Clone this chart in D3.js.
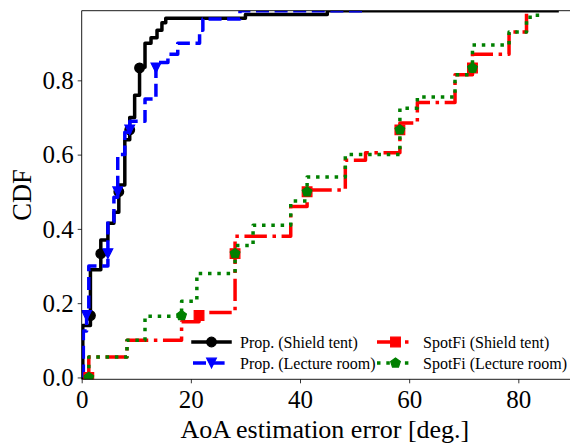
<!DOCTYPE html>
<html><head><meta charset="utf-8">
<script src="https://cdn.jsdelivr.net/npm/d3@7"></script>
<style>body{margin:0;background:#fff}svg{display:block}</style>
</head><body>
<svg id="c" width="570" height="443"></svg>
<script>
// ---- data ----
const xTicks = [0, 20, 40, 60, 80];
const yTicks = [0.0, 0.2, 0.4, 0.6, 0.8];
const seriesNames = ["Prop. (Shield tent)", "Prop. (Lecture room)", "SpotFi (Shield tent)", "SpotFi (Lecture room)"];

// step positions (AoA error, deg.) and CDF level after each step
const propShieldX = [0.2, 1.6, 3.5, 4.8, 5.9, 6.8, 7.9, 8.8, 9.7, 10.6, 11.6, 12.7, 13.8, 14.7, 15.4, 30.0, 45.0, 87.1];
const propShieldY = [0.14, 0.29, 0.37, 0.415, 0.445, 0.518, 0.64, 0.70, 0.76, 0.835, 0.90, 0.915, 0.935, 0.955, 0.967, 0.977, 0.9875, 0.9875];

const propLectureX = [0.3, 0.9, 1.3, 4.8, 5.9, 6.6, 7.9, 8.8, 11.6, 13.6, 15.8, 17.6, 21.6, 22.2, 29.0, 52.0];
const propLectureY = [0.125, 0.18, 0.30, 0.42, 0.485, 0.60, 0.66, 0.69, 0.75, 0.848, 0.87, 0.90, 0.935, 0.965, 0.9875, 0.9875];

const spotShieldX = [1.3, 8.3, 18.3, 21.5, 28.1, 38.3, 41.3, 48.3, 52.0, 58.3, 61.5, 68.4, 71.6, 78.3, 81.5];
const spotShieldY = [0.055, 0.10, 0.15, 0.175, 0.38, 0.46, 0.505, 0.585, 0.605, 0.685, 0.74, 0.815, 0.87, 0.93, 0.9875];

const spotLectureX = [1.3, 8.3, 11.6, 18.3, 21.1, 28.1, 31.4, 38.3, 41.3, 48.3, 58.3, 61.5, 68.4, 71.6, 78.3, 81.5, 83.5];
const spotLectureY = [0.055, 0.10, 0.165, 0.205, 0.28, 0.355, 0.41, 0.475, 0.54, 0.60, 0.725, 0.755, 0.815, 0.895, 0.93, 0.97, 0.9875];

const propMarkerLevels = [1/6, 2/6, 3/6, 4/6, 5/6];
const spotMarkerLevels = [0, 1/6, 2/6, 3/6, 4/6, 5/6];

// ---- chart ----
const svg = d3.select("#c");
const W = 570, H = 443;
const x = d3.scaleLinear().domain([0, 90]).range([81.7, 572.9]);
const y = d3.scaleLinear().domain([-0.005, 0.9875]).range([379.3, 10.7]);
const font = "'Liberation Serif','Times New Roman',serif";

svg.append("rect").attr("width", W).attr("height", H).attr("fill", "#fff");

svg.append("defs").append("clipPath").attr("id", "clip")
  .append("rect").attr("x", x(0)).attr("y", y.range()[1])
  .attr("width", x.range()[1] - x(0)).attr("height", y.range()[0] - y.range()[1]);

const lw = 3.5;
const ms = 9.7;
function markerPath(type) {
  const r = ms / 2;
  if (type === "circle") return d3.symbol(d3.symbolCircle, Math.PI * r * r)();
  if (type === "square") return `M${-r},${-r}H${r}V${r}H${-r}Z`;
  if (type === "tri") return `M0,${r}L${-r},${-r}L${r},${-r}Z`;
  if (type === "pent") {
    const pts = d3.range(5).map(i => {
      const a = -Math.PI / 2 + i * 2 * Math.PI / 5;
      return [r * 1.05 * Math.cos(a), r * 1.05 * Math.sin(a)];
    });
    return "M" + pts.map(p => p.join(",")).join("L") + "Z";
  }
}

const series = [
  {name: seriesNames[0], X: propShieldX, Y: propShieldY, color: "#000000", dash: null, marker: "circle", levels: propMarkerLevels},
  {name: seriesNames[1], X: propLectureX, Y: propLectureY, color: "#0000ff", dash: [13, 5.6], marker: "tri", levels: propMarkerLevels},
  {name: seriesNames[2], X: spotShieldX, Y: spotShieldY, color: "#ff0000", dash: [22.4, 5.6, 3.5, 5.6], marker: "square", levels: spotMarkerLevels},
  {name: seriesNames[3], X: spotLectureX, Y: spotLectureY, color: "#008000", dash: [3.5, 5.8], marker: "pent", levels: spotMarkerLevels}
];

function stepPoints(X, Y) {
  const pts = [[X[0], 0]];
  let prev = 0;
  X.forEach((xv, i) => { pts.push([xv, prev]); pts.push([xv, Y[i]]); prev = Y[i]; });
  return pts;
}
const line = d3.line().x(d => x(d[0])).y(d => y(d[1]));

const plot = svg.append("g").attr("clip-path", "url(#clip)");
series.forEach(s => {
  plot.append("path")
    .attr("d", line(stepPoints(s.X, s.Y)))
    .attr("fill", "none").attr("stroke", s.color).attr("stroke-width", lw)
    .attr("stroke-dasharray", s.dash ? s.dash.join(",") : null)
    .attr("stroke-linecap", s.dash ? "butt" : "square")
    .attr("stroke-linejoin", "round");
  s.levels.forEach(L => {
    const i = s.Y.findIndex(v => v >= L - 1e-9);
    if (i < 0) return;
    plot.append("path").attr("d", markerPath(s.marker))
      .attr("transform", `translate(${x(s.X[i])},${y(L)})`)
      .attr("fill", s.color).attr("stroke", s.color).attr("stroke-width", 1.2);
  });
});

// axes
const gx = svg.append("g").attr("transform", `translate(0,${y.range()[0]})`)
  .call(d3.axisBottom(x).tickValues(xTicks).tickFormat(d3.format("d")).tickSize(4).tickSizeOuter(0));
const gy = svg.append("g").attr("transform", `translate(${x(0)},0)`)
  .call(d3.axisLeft(y).tickValues(yTicks).tickFormat(d3.format(".1f")).tickSize(4).tickSizeOuter(0));
[gx, gy].forEach(g => {
  g.select(".domain").remove();
  g.selectAll("line").attr("stroke", "#000").attr("stroke-width", 0.8);
  g.selectAll("text").attr("font-family", font).attr("font-size", 25).attr("fill", "#000");
});
gx.selectAll("text").attr("dy", null).attr("y", 29);
gy.selectAll("text").attr("x", -8).attr("dy", "0.33em");

// spines
const sp = svg.append("g").attr("stroke", "#000").attr("stroke-width", 0.9).attr("fill", "none");
sp.append("line").attr("x1", x(0)).attr("x2", x(0)).attr("y1", y.range()[0]).attr("y2", y.range()[1]);
sp.append("line").attr("x1", x(0)).attr("x2", W + 5).attr("y1", y.range()[0]).attr("y2", y.range()[0]);
sp.append("line").attr("x1", x(0)).attr("x2", W + 5).attr("y1", y.range()[1]).attr("y2", y.range()[1]);

// axis labels
svg.append("text").attr("x", (x(0) + W) / 2 - 1).attr("y", 438)
  .attr("text-anchor", "middle").attr("font-family", font).attr("font-size", 26)
  .text("AoA estimation error [deg.]");
svg.append("text").attr("transform", `translate(31,${(y.range()[0] + y.range()[1]) / 2}) rotate(-90)`)
  .attr("text-anchor", "middle").attr("font-family", font).attr("font-size", 26.5)
  .text("CDF");

// legend
const legPos = [[193, 342], [193, 363], [377, 342], [377, 363]];
const hlen = 37;
series.forEach((s, k) => {
  const [lx, ly] = legPos[k];
  const g = svg.append("g");
  g.append("line").attr("x1", lx).attr("x2", lx + hlen).attr("y1", ly).attr("y2", ly)
    .attr("stroke", s.color).attr("stroke-width", lw)
    .attr("stroke-dasharray", s.dash ? s.dash.join(",") : null)
    .attr("stroke-linecap", s.dash ? "butt" : "square");
  g.append("path").attr("d", markerPath(s.marker))
    .attr("transform", `translate(${lx + hlen / 2},${ly})`)
    .attr("fill", s.color).attr("stroke", s.color).attr("stroke-width", 1.2);
  g.append("text").attr("x", lx + hlen + (k >= 2 ? 9 : 10)).attr("y", ly).attr("dy", "0.35em")
    .attr("font-family", font).attr("font-size", 16).attr("fill", "#000").text(s.name);
});
</script>
</body></html>
